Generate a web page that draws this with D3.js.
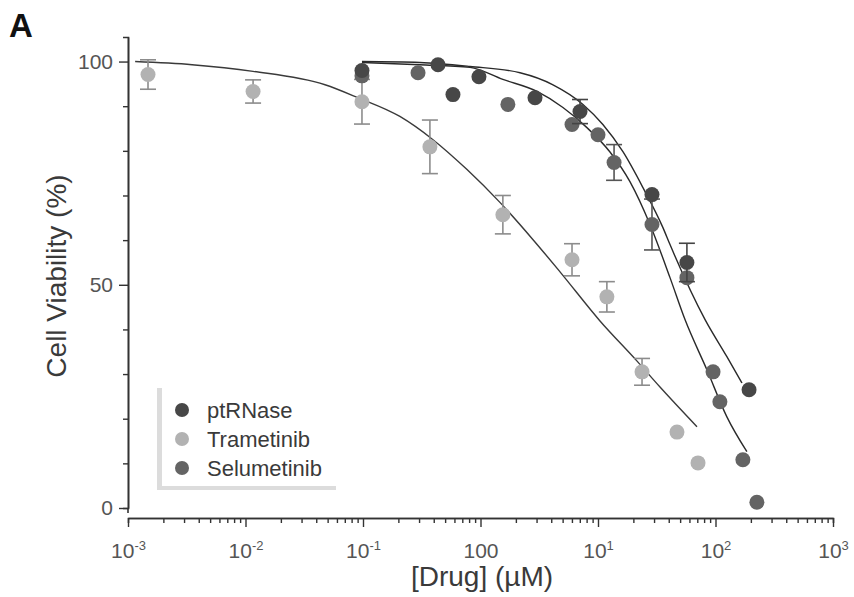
<!DOCTYPE html>
<html lang="en">
  <head>
    <meta charset="UTF-8" />
    <title>Cell viability dose response</title>
    <script src="https://d3js.org/d3.v7.min.js"></script>
    <style>
      body { margin: 0; background: #fff; }
      text { font-family: "Liberation Sans", Arial, sans-serif; }
    </style>
  </head>
  <body>
    <svg width="854" height="597"></svg>

    <script>
      // measured points (concentration in uM, viability in %, error bar half-height)
      const tramConc = [0.00148, 0.0116, 0.098, 0.371, 1.55, 6.01, 11.9, 23.7, 47.0, 71.0];
      const tramViab = [97.1, 93.3, 91.0, 80.9, 65.7, 55.6, 47.3, 30.5, 17.0, 10.1];
      const tramErr = [3.3, 2.6, 5.0, 6.0, 4.3, 3.6, 3.4, 3.0, 0, 0];

      const ptrConc = [0.098, 0.435, 0.583, 0.97, 2.91, 7.03, 28.8, 57.1, 193];
      const ptrViab = [98.0, 99.3, 92.6, 96.6, 91.9, 88.8, 70.2, 55.0, 26.5];
      const ptrErr = [0, 0, 0, 0, 0, 2.7, 0, 4.3, 0];

      const selConc = [0.098, 0.294, 1.71, 6.01, 10.0, 13.7, 28.8, 57.1, 95.3, 109, 171, 225];
      const selViab = [96.8, 97.5, 90.4, 85.9, 83.6, 77.4, 63.5, 51.6, 30.5, 23.8, 10.8, 1.3];
      const selErr = [0, 0, 0, 0, 0, 4.0, 5.7, 0, 0, 0, 0, 0];

      // fitted curves
      const tramFitConc = [0.00115, 0.00351, 0.0116, 0.0475, 0.0906, 0.206, 0.394, 0.768, 1.47, 2.80, 4.75, 10.4, 21.5, 33.7, 69.6];
      const tramFitViab = [100, 99.3, 97.8, 94.8, 91.9, 87.7, 82.5, 75.8, 68.4, 60.1, 52.9, 41.9, 32.9, 27.1, 18.2];

      const ptrFitConc = [0.098, 0.305, 0.814, 2.17, 4.14, 7.45, 11.0, 16.3, 24.2, 35.7, 41.0, 81.5, 125, 168];
      const ptrFitViab = [100, 99.8, 98.9, 97.5, 94.8, 90.4, 85.9, 79.8, 71.7, 62.8, 59.0, 42.2, 33.9, 28.0];

      const selFitConc = [0.098, 0.305, 0.814, 1.55, 3.03, 5.03, 8.05, 12.6, 18.7, 27.7, 41.0, 55.0, 84.7, 125, 185];
      const selFitViab = [99.8, 99.3, 98.7, 96.0, 93.3, 89.7, 85.2, 79.8, 73.1, 63.5, 51.6, 42.2, 30.9, 20.4, 12.6];

      const seriesNames = ["ptRNase", "Trametinib", "Selumetinib"];
      const seriesFill = ["#474747", "#b2b2b2", "#646464"];

      const xMajor = [1e-3, 1e-2, 1e-1, 1, 1e1, 1e2, 1e3];
      const xLabels = [["10", "-3"], ["10", "-2"], ["10", "-1"], ["100", ""], ["10", "1"], ["10", "2"], ["10", "3"]];
      const yMajor = [0, 50, 100];
      const yMinor = [10, 20, 30, 40, 60, 70, 80, 90];

      const svg = d3.select("svg");

      const x = d3.scaleLog().domain([1e-3, 1e3]).range([128, 833]);
      const y = d3.scaleLinear().domain([0, 105.5]).range([508, 37]);

      // minor ticks for the log axis
      let xMinor = [];
      xMajor.slice(0, -1).forEach(function (d) {
        for (let k = 2; k <= 9; k++) xMinor.push(d * k);
      });

      const axisColor = "#333";
      const labFont = "'Liberation Sans', Arial, sans-serif";

      // y axis
      const yAxis = svg.append("g").attr("transform", "translate(128,0)");
      yAxis.call(d3.axisLeft(y).tickValues(yMajor).tickSize(9).tickSizeOuter(0).tickPadding(6));
      yAxis.selectAll(".tick text").attr("font-size", 21).attr("fill", "#555").style("font-family", labFont);
      yAxis.append("g").call(d3.axisLeft(y).tickValues(yMinor).tickSize(5).tickFormat(""));
      yAxis.selectAll(".domain").attr("stroke", axisColor).attr("stroke-width", 1.6);
      yAxis.selectAll("line").attr("stroke", axisColor).attr("stroke-width", 1.4);
      yAxis.append("line").attr("y1", 508).attr("y2", 513).attr("stroke", axisColor).attr("stroke-width", 1.6);

      // x axis
      const xAxis = svg.append("g").attr("transform", "translate(0,518)");
      xAxis.call(d3.axisBottom(x).tickValues(xMajor).tickSize(9).tickSizeOuter(0).tickPadding(16));
      xAxis.selectAll(".tick text").each(function (d, i) {
        const t = d3.select(this).text("").attr("font-size", 21).attr("fill", "#555")
          .style("font-family", labFont);
        const lab = xLabels[i];
        t.append("tspan").text(lab[0]);
        if (lab[1]) t.append("tspan").attr("dy", -8).attr("font-size", 13).text(lab[1]);
      });
      xAxis.append("g").call(d3.axisBottom(x).tickValues(xMinor).tickSize(5).tickFormat(""));
      xAxis.selectAll(".domain").attr("stroke", axisColor).attr("stroke-width", 1.6);
      xAxis.selectAll("line").attr("stroke", axisColor).attr("stroke-width", 1.4);

      // axis titles
      svg.append("text")
        .attr("x", 482).attr("y", 586)
        .attr("text-anchor", "middle").attr("font-size", 28).attr("fill", "#3a3a3a")
        .text("[Drug] (µM)");
      svg.append("text")
        .attr("transform", "translate(66,276) rotate(-90)")
        .attr("text-anchor", "middle").attr("font-size", 28).attr("fill", "#3a3a3a")
        .text("Cell Viability (%)");

      svg.append("text")
        .attr("x", 9).attr("y", 37)
        .attr("font-size", 33).attr("font-weight", "bold").attr("fill", "#111")
        .text("A");

      // fitted curves
      const line = d3.line()
        .x(function (d) { return x(d[0]); })
        .y(function (d) { return y(d[1]); })
        .curve(d3.curveMonotoneX);

      const fits = [
        d3.zip(ptrFitConc, ptrFitViab),
        d3.zip(tramFitConc, tramFitViab),
        d3.zip(selFitConc, selFitViab),
      ];
      svg.append("g").selectAll("path").data(fits).enter().append("path")
        .attr("d", line)
        .attr("fill", "none")
        .attr("stroke", function (d, i) { return i === 1 ? "#3a3a3a" : "#2a2a2a"; })
        .attr("stroke-width", 1.4);

      // points + error bars
      const sets = [
        { conc: ptrConc, viab: ptrViab, err: ptrErr, fill: seriesFill[0], bar: "#444" },
        { conc: tramConc, viab: tramViab, err: tramErr, fill: seriesFill[1], bar: "#8c8c8c" },
        { conc: selConc, viab: selViab, err: selErr, fill: seriesFill[2], bar: "#555" },
      ];
      // draw Trametinib first so the darker series sit on top
      [1, 2, 0].forEach(function (si) {
        const s = sets[si];
        const pts = d3.zip(s.conc, s.viab, s.err);
        const g = svg.append("g");
        const eb = g.selectAll("g.eb").data(pts.filter(function (d) { return d[2] > 0; }))
          .enter().append("g").attr("stroke", s.bar).attr("stroke-width", 1.6);
        eb.append("line")
          .attr("x1", function (d) { return x(d[0]); }).attr("x2", function (d) { return x(d[0]); })
          .attr("y1", function (d) { return y(d[1] + d[2]); }).attr("y2", function (d) { return y(d[1] - d[2]); });
        eb.append("line")
          .attr("x1", function (d) { return x(d[0]) - 8; }).attr("x2", function (d) { return x(d[0]) + 8; })
          .attr("y1", function (d) { return y(d[1] + d[2]); }).attr("y2", function (d) { return y(d[1] + d[2]); });
        eb.append("line")
          .attr("x1", function (d) { return x(d[0]) - 8; }).attr("x2", function (d) { return x(d[0]) + 8; })
          .attr("y1", function (d) { return y(d[1] - d[2]); }).attr("y2", function (d) { return y(d[1] - d[2]); });
        g.selectAll("circle").data(pts).enter().append("circle")
          .attr("cx", function (d) { return x(d[0]); })
          .attr("cy", function (d) { return y(d[1]); })
          .attr("r", 7.5)
          .attr("fill", s.fill);
      });

      // legend
      const leg = svg.append("g").attr("transform", "translate(157,388)");
      leg.append("rect").attr("x", 0).attr("y", 0).attr("width", 5).attr("height", 102).attr("fill", "#dcdcdc");
      leg.append("rect").attr("x", 0).attr("y", 98).attr("width", 179).attr("height", 4).attr("fill", "#dcdcdc");
      seriesNames.forEach(function (name, i) {
        const row = leg.append("g").attr("transform", "translate(0," + (22 + i * 29) + ")");
        row.append("circle").attr("cx", 25).attr("cy", 0).attr("r", 7).attr("fill", seriesFill[i]);
        row.append("text").attr("x", 50).attr("y", 8).attr("font-size", 22).attr("fill", "#3a3a3a").text(name);
      });
    </script>
  </body>
</html>
